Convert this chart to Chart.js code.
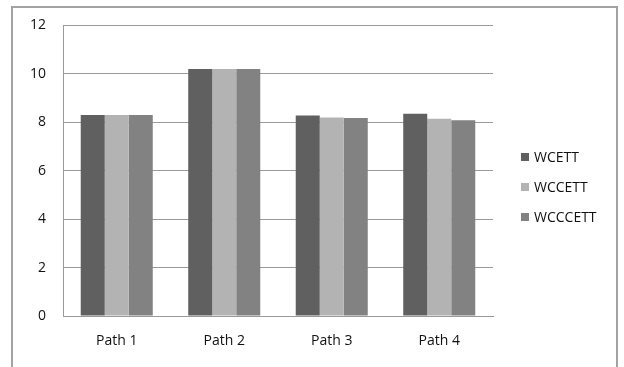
<!DOCTYPE html>
<html>
<head>
<meta charset="utf-8">
<script src="https://cdn.jsdelivr.net/npm/chart.js@4.4.1/dist/chart.umd.min.js"></script>
<style>
  html, body { margin: 0; padding: 0; background: #fff; overflow: hidden; }
  #wrap { position: relative; width: 624px; height: 367px; overflow: hidden; }
  #frame { position: absolute; left: 11px; top: 6px; width: 607px; height: 420px;
           border: 2px solid #a3a3a3; box-sizing: border-box; pointer-events: none; }
  canvas { position: absolute; left: 0; top: 0; }
  #legend { position: absolute; left: 521px; top: 147px; font-family: "Open Sans", sans-serif;
            font-size: 14px; color: #111; }
  .item { height: 30px; display: flex; align-items: flex-start; }
  .swatch { width: 8px; height: 8px; margin-top: 6px; margin-right: 5px; }
</style>
</head>
<body>
<div id="wrap">
  <canvas id="c" width="624" height="367"></canvas>
  <div id="frame"></div>
  <div id="legend"></div>
</div>
<script>
const categories = ["Path 1", "Path 2", "Path 3", "Path 4"];
const seriesNames = ["WCETT", "WCCETT", "WCCCETT"];
const wcett   = [8.3, 10.2, 8.28, 8.35];
const wccett  = [8.3, 10.2, 8.2, 8.15];
const wcccett = [8.3, 10.2, 8.18, 8.08];
const yTicks = [0, 2, 4, 6, 8, 10, 12];
const colors = ["#606060", "#b3b3b3", "#828282"];

const seriesValues = [wcett, wccett, wcccett];
const datasets = seriesNames.map((name, i) => ({
  label: name,
  data: seriesValues[i],
  backgroundColor: colors[i],
  borderWidth: 0,
  barPercentage: 1.0,
  categoryPercentage: 0.67
}));

const font = { family: "'Open Sans', sans-serif", size: 14 };

const chart = new Chart(document.getElementById("c"), {
  type: "bar",
  data: { labels: categories, datasets },
  options: {
    responsive: false,
    animation: false,
    devicePixelRatio: 1,
    layout: { padding: { left: 0, top: 25, right: 131, bottom: 0 } },
    plugins: { legend: { display: false }, tooltip: { enabled: false } },
    scales: {
      x: {
        grid: { display: false, drawTicks: false },
        border: { display: true, color: "#9a9a9a", width: 1 },
        ticks: { font, color: "#111", padding: 17 },
        afterFit(scale) { scale.height = 51; }
      },
      y: {
        min: 0, max: 12,
        afterBuildTicks(scale) { scale.ticks = yTicks.map(v => ({ value: v })); },
        grid: { color: "#9a9a9a", lineWidth: 1, drawTicks: false },
        border: { display: true, color: "#9a9a9a", width: 1 },
        ticks: { font, color: "#111", padding: 17 },
        afterFit(scale) { scale.width = 63; }
      }
    }
  }
});

// Legend built from the chart's datasets
const legend = document.getElementById("legend");
chart.data.datasets.forEach(ds => {
  const item = document.createElement("div");
  item.className = "item";
  const sw = document.createElement("div");
  sw.className = "swatch";
  sw.style.background = ds.backgroundColor;
  const txt = document.createElement("span");
  txt.textContent = ds.label;
  item.appendChild(sw);
  item.appendChild(txt);
  legend.appendChild(item);
});
</script>
</body>
</html>
